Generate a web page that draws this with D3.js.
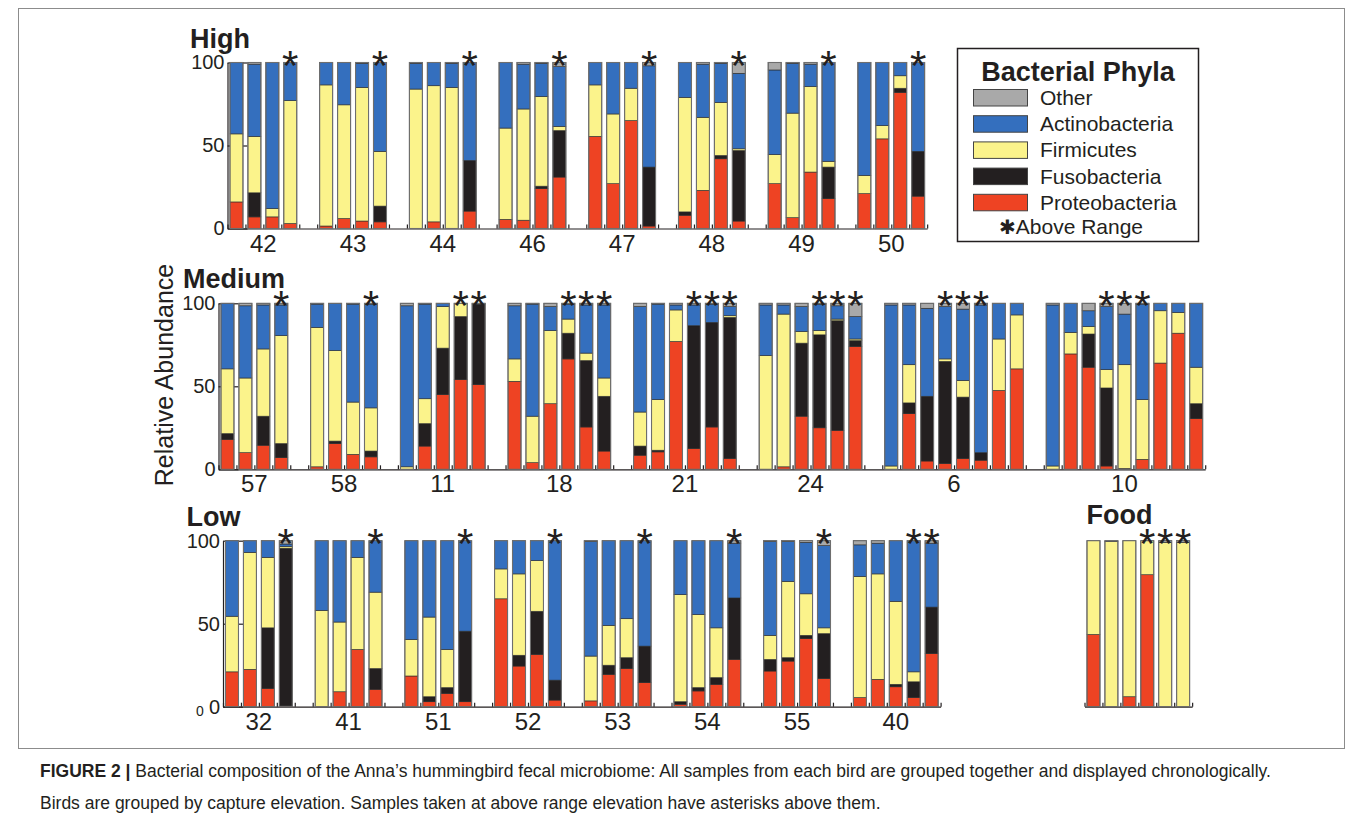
<!DOCTYPE html>
<html><head><meta charset="utf-8">
<script src="https://cdn.jsdelivr.net/npm/d3@7"></script>
<style>
body{margin:0;background:#fff}
svg{display:block}
text{font-family:"Liberation Sans",Arial,Helvetica,sans-serif;fill:#231f20}
</style>
</head><body>
<svg id="c" width="1363" height="825"></svg>
<script>
// ---------- DATA ----------
const phyla = ["Proteobacteria","Fusobacteria","Firmicutes","Actinobacteria","Other"];
const phylaColors = ["#ee4323","#231f20","#fbf38b","#346fbe","#a9a9a9"];
const legendOrder = ["Other","Actinobacteria","Firmicutes","Fusobacteria","Proteobacteria"];
const rowTitles = ["High","Medium","Low","Food"];

// High elevation birds
const highBirds  = ["42","43","44","46","47","48","49","50"];
const highCounts = [4,4,4,4,4,4,4,4];
const highProteo = [16,7,7,3, 1.5,6,4.5,4, 0,4,0,10.5, 5.5,5,24,31, 55.5,27,65,1.5, 8,23,42,4.5, 27,6.5,34,18, 21,54,82,19.5];
const highFuso   = [0,14.5,0,0, 0,0,0,9.5, 0,0,0,30.5, 0,0,1.5,28, 0,0,0,35.5, 2,0,2,42.5, 0,0,0,19, 0,0,2.5,27];
const highFirmi  = [41,34,5,74, 85,68.5,80.5,33, 84,82,85,0, 55,67,54,2.5, 31,42,19.5,0, 69,44,32,1, 17.5,63,51.5,3.5, 11,8,7.5,0];
const highActino = [43,43.5,88,23, 13.5,25.5,14.5,53.5, 15.5,14,14.5,59, 39.5,27,20,36, 13.5,31,15.5,61, 21,32,23.5,45.5, 51,30,13.5,59.5, 68,38,8,53.5];
const highOther  = [0,1,0,0, 0,0,0.5,0, 0.5,0,0.5,0, 0,1,0.5,2.5, 0,0,0,2, 0,1,0.5,6.5, 4.5,0.5,1,0, 0,0,0,0];
const highAbove  = [0,0,0,1, 0,0,0,1, 0,0,0,1, 0,0,0,1, 0,0,0,1, 0,0,0,1, 0,0,0,1, 0,0,0,1];

// Medium elevation birds
const medBirds  = ["57","58","11","18","21","24","6","10"];
const medCounts = [4,4,5,6,6,6,8,9];
const medProteo = [18,10,14.5,7, 1.5,15.5,9,7.5, 0,14,45,54,51, 53,4,39.5,66.5,25.5,11, 8.5,10.5,77,12.5,25.5,6.5, 0,1.5,32,25,23.5,74, 0,33.5,5,3.5,6.5,5.5,47.5,60.5, 0,69.5,61.5,2,0,6,64,82,30.5];
const medFuso   = [3.5,0,17.5,8.5, 0,1.5,0,3.5, 0,13.5,28,38,48.5, 0,0,0,15.5,40,33, 5.5,1,0,74,63,85, 0,0,44,56,66,3.5, 0,6.5,39,61.5,37,4.5,0,0, 0,0,20,47,0.5,0,0,0,9];
const medFirmi  = [39,45,40.5,65, 84,54.5,31.5,26, 1.5,15,25,8,0, 13.5,28,44,8.5,4.5,11, 20.5,30.5,19,0,0,1, 68.5,92,7,2.5,1,1, 2,23,0,1.5,10,0,31,32.5, 2,13,4.5,11,62.5,36,31.5,12.5,22];
const medActino = [39.5,43.5,26.5,18.5, 14,28.5,59,62.5, 97,57,2,0,0, 32,67.5,14.5,9,29,44, 63.5,57.5,3,12.5,11,5.5, 30.5,5.5,15,16,8,13.5, 97,36,53,31.5,43,89,21.5,7, 97,17.5,9.5,38,30.5,57.5,4.5,5.5,38.5];
const medOther  = [0,1.5,1,1, 0.5,0,0.5,0.5, 1.5,0.5,0,0,0.5, 1.5,0.5,2,0.5,1,1, 2,0.5,1,1,0.5,2, 1,1,2,0.5,1.5,8, 1,1,3,2,3.5,1,0,0, 1,0,4.5,2,6.5,0.5,0,0,0];
const medAbove  = [0,0,0,1, 0,0,0,1, 0,0,0,1,1, 0,0,0,1,1,1, 0,0,0,1,1,1, 0,0,0,1,1,1, 0,0,0,1,1,1,0,0, 0,0,0,1,1,1,0,0,0];

// Low elevation birds
const lowBirds  = ["32","41","51","52","53","54","55","40"];
const lowCounts = [4,4,4,4,4,4,4,5];
const lowProteo = [21,22.5,11,0.5, 0,9,34.5,10.5, 18.5,3,8,3, 65,24.5,31.5,4, 3.5,19.5,23,14.5, 1.5,9.5,13.5,28.5, 21.5,27.5,41,17, 5.5,16.5,12,5.5,32];
const lowFuso   = [0,0,36.5,95, 0,0,0,12.5, 0,3,3.5,42.5, 0,6.5,26,12, 0,5.5,6.5,22, 1.5,2,4,37, 7,2,2,27, 0,0,1.5,9.5,28];
const lowFirmi  = [33.5,70.5,42.5,1, 58,42,55.5,46, 22,48,23,0, 18,49,30.5,0, 27,24,23.5,0, 64.5,44,30,0, 14.5,46,25,3.5, 73,63.5,50,6,0];
const lowActino = [45.5,7,10,1.5, 42,49,10,31, 59.5,46,65.5,54.5, 17,20,12,84, 69,51,47,63.5, 32.5,44.5,52.5,33, 56.5,24,31,49.5, 19,18.5,36.5,79,38.5];
const lowOther  = [0,0,0,2, 0,0,0,0, 0,0,0,0, 0,0,0,0, 0.5,0,0,0, 0,0,0,1.5, 0.5,0.5,1,3, 2.5,1.5,0,0,1.5];
const lowAbove  = [0,0,0,1, 0,0,0,1, 0,0,0,1, 0,0,0,1, 0,0,0,1, 0,0,0,1, 0,0,0,1, 0,0,0,1,1];

// Food samples
const foodBirds  = [""];
const foodCounts = [6];
const foodProteo = [43.5,0,6,79.5,0,0];
const foodFuso   = [0,0,0,0,0,0];
const foodFirmi  = [56.5,99.5,94,20.5,99,99];
const foodActino = [0,0,0,0,0,0];
const foodOther  = [0,0.5,0,0,1,1];
const foodAbove  = [0,0,0,1,1,1];

const yTicks = [0,50,100];

// ---------- DRAWING ----------
const svg = d3.select("#c");
const SLOT = 17.94, BW = 13;
const color = d3.scaleOrdinal().domain(phyla).range(phylaColors);

// frame
svg.append("rect").attr("x",18.5).attr("y",8.5).attr("width",1326).attr("height",740)
  .attr("fill","none").attr("stroke","#8c8c8c").attr("stroke-width",1);

function drawRow(o){
  const N = d3.sum(o.counts) + o.counts.length - 1;
  const x = d3.scaleLinear().domain([0.5, N+0.5]).range([o.x0, o.x0 + N*SLOT]);
  const y = d3.scaleLinear().domain([0,100]).range([o.y0, o.y100]);
  const g = svg.append("g");
  const pos = []; const groups = []; let k = 1;
  o.counts.forEach((c,i)=>{ const s=k; for(let j=0;j<c;j++) pos.push(k++); groups.push([s,k-1]); k++; });
  const rows = pos.map((p,i)=>({pos:p, above:o.above[i],
    Proteobacteria:o.series[0][i], Fusobacteria:o.series[1][i], Firmicutes:o.series[2][i],
    Actinobacteria:o.series[3][i], Other:o.series[4][i]}));
  if (o.yAxis){
    const ya = g.append("g").attr("transform",`translate(${o.x0},0)`)
      .call(d3.axisLeft(y).tickValues(yTicks).tickSizeInner(-20).tickSizeOuter(0).tickPadding(3));
    ya.selectAll("path,line").attr("stroke","#231f20").attr("stroke-width",1.2);
    ya.selectAll("text").attr("font-size",20).attr("font-family","Liberation Sans, Arial, sans-serif").attr("fill","#231f20");
    if (o.zeroExtra){
      g.append("text").attr("x",o.x0-27).attr("y",o.y0+9).attr("font-size",14).text("0");
    }
  }
  const halfs = d3.range(0, N+1).map(i=>i+0.5);
  const xa = g.append("g").attr("transform",`translate(0,${o.y0})`)
    .call(d3.axisBottom(x).tickValues(halfs).tickSizeInner(-4).tickSizeOuter(0).tickFormat(""));
  xa.selectAll("path,line").attr("stroke","#231f20").attr("stroke-width",1.2);
  const stacked = d3.stack().keys(phyla)(rows);
  stacked.forEach(layer=>{
    g.append("g").selectAll("rect").data(layer.filter(d=>d[1]-d[0]>0)).join("rect")
      .attr("x",d=>x(d.data.pos)-BW/2).attr("width",BW)
      .attr("y",d=>y(d[1])).attr("height",d=>y(d[0])-y(d[1]))
      .attr("fill",color(layer.key)).attr("stroke","#2a2a2a").attr("stroke-width",0.6);
  });
  g.append("g").selectAll("rect").data(rows).join("rect")
    .attr("x",d=>x(d.pos)-BW/2).attr("width",BW)
    .attr("y",y(100)).attr("height",y(0)-y(100))
    .attr("fill","none").attr("stroke","#6e6e6e").attr("stroke-width",1.1);
  g.append("g").selectAll("text").data(rows.filter(d=>d.above)).join("text")
    .attr("x",d=>x(d.pos)).attr("y",y(100)+17).attr("text-anchor","middle")
    .attr("font-size",42).text("*");
  g.append("g").selectAll("text").data(o.birds).join("text")
    .attr("x",(d,i)=>(x(groups[i][0])+x(groups[i][1]))/2).attr("y",o.y0+23)
    .attr("text-anchor","middle").attr("font-size",24).text(d=>d);
  g.append("text").attr("x",o.tx).attr("y",o.ty).attr("font-size",27).attr("font-weight","bold").text(o.title);
}

drawRow({birds:highBirds,counts:highCounts,series:[highProteo,highFuso,highFirmi,highActino,highOther],
  above:highAbove,x0:227.5,y0:228.5,y100:62.5,yAxis:true,title:rowTitles[0],tx:190,ty:48});
drawRow({birds:medBirds,counts:medCounts,series:[medProteo,medFuso,medFirmi,medActino,medOther],
  above:medAbove,x0:218.5,y0:469.3,y100:303.3,yAxis:true,title:rowTitles[1],tx:183,ty:288});
drawRow({birds:lowBirds,counts:lowCounts,series:[lowProteo,lowFuso,lowFirmi,lowActino,lowOther],
  above:lowAbove,x0:223,y0:706.7,y100:540.7,yAxis:true,zeroExtra:true,title:rowTitles[2],tx:186.5,ty:526});
drawRow({birds:foodBirds,counts:foodCounts,series:[foodProteo,foodFuso,foodFirmi,foodActino,foodOther],
  above:foodAbove,x0:1084.5,y0:706.7,y100:540.7,yAxis:false,title:rowTitles[3],tx:1086.5,ty:524});

svg.append("text").attr("transform","translate(173,375) rotate(-90)").attr("text-anchor","middle")
  .attr("font-size",25).text("Relative Abundance");

const lg = svg.append("g");
lg.append("rect").attr("x",957.5).attr("y",48.5).attr("width",241).attr("height",193)
  .attr("fill","#fff").attr("stroke","#231f20").attr("stroke-width",1.5);
lg.append("text").attr("x",1078).attr("y",81).attr("text-anchor","middle").attr("font-size",27)
  .attr("font-weight","bold").text("Bacterial Phyla");
legendOrder.forEach((p,i)=>{
  lg.append("rect").attr("x",973.5).attr("y",89.5+i*26.2).attr("width",54).attr("height",16.5)
    .attr("fill",color(p)).attr("stroke","#444").attr("stroke-width",1);
  lg.append("text").attr("x",1040).attr("y",105+i*26.2).attr("font-size",21).text(p);
});
lg.append("text").attr("x",999).attr("y",234).attr("font-size",21)
  .html('<tspan font-family="DejaVu Sans" font-size="20">✱</tspan><tspan>Above Range</tspan>');

const cap = svg.append("g");
cap.append("text").attr("x",40).attr("y",777).attr("font-size",17.5)
  .html('<tspan font-weight="bold">FIGURE 2 |</tspan> Bacterial composition of the Anna’s hummingbird fecal microbiome: All samples from each bird are grouped together and displayed chronologically.');
cap.append("text").attr("x",40).attr("y",809).attr("font-size",17.5)
  .text("Birds are grouped by capture elevation. Samples taken at above range elevation have asterisks above them.");
</script>
</body></html>
